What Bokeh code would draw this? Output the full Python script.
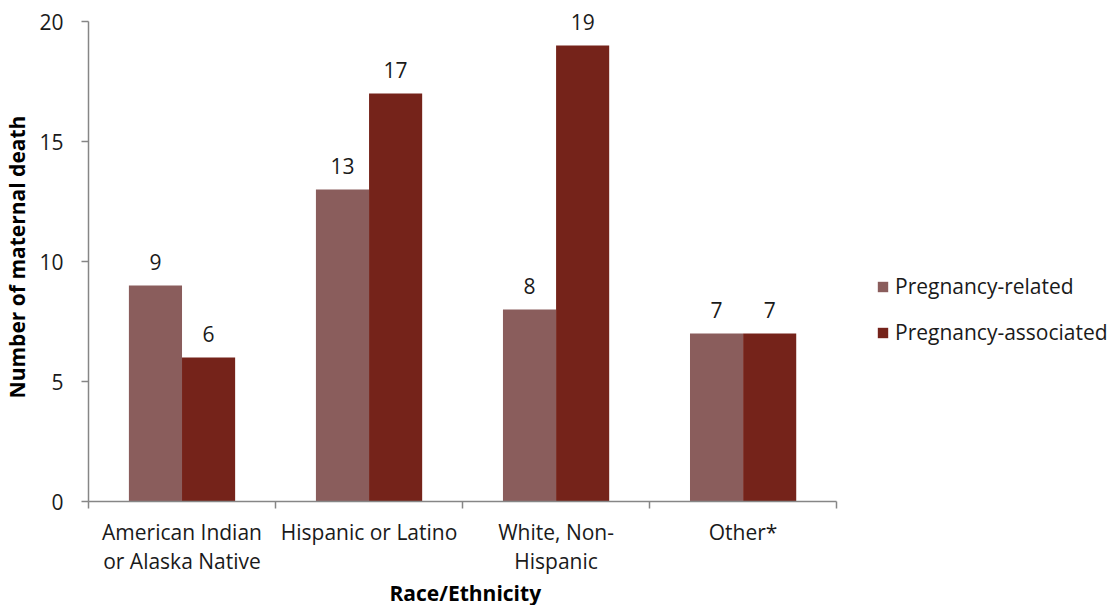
from bokeh.plotting import figure
from bokeh.models import (ColumnDataSource, FixedTicker, Range1d, Legend, LegendItem,
                          LinearAxis, Title)
from bokeh.core.properties import value
from bokeh.embed import file_html
from bokeh.resources import INLINE

categories = ["American Indian\nor Alaska Native", "Hispanic or Latino", "White, Non-\nHispanic", "Other*"]
related = [9, 13, 8, 7]
associated = [6, 17, 19, 7]
series_names = ["Pregnancy-related", "Pregnancy-associated"]
y_ticks = [0, 5, 10, 15, 20]

C_REL = "#8A5D5C"
C_ASC = "#75231A"
AXIS_C = "#868686"
FONT = "Open Sans"
FS = "21px"

n = len(categories)
centers = [i + 0.5 for i in range(n)]
bw = 0.284

W, H = 1107, 605
LEFT, TOP = 80, 12
PANEL_B = 104          # expected height of the bottom panel (axis + title)
FB = H - PANEL_B       # frame bottom (px from top)
Y20 = 21               # px position of the 20 gridline
CAT_W = 754.0
x_end = n * (W - LEFT) / CAT_W
y_end = 20 * (FB - TOP) / (FB - Y20)

p = figure(width=W, height=H, output_backend="svg", toolbar_location=None,
           x_range=Range1d(0, x_end), y_range=Range1d(0, y_end),
           min_border_left=LEFT, min_border_top=TOP, min_border_bottom=0, min_border_right=0,
           x_axis_type=None, y_axis_type=None)
p.outline_line_color = None
p.grid.visible = False
p.background_fill_color = "white"
p.border_fill_color = "white"

src_r = ColumnDataSource(dict(x=[c - bw / 2 for c in centers], top=related,
                              lab=[str(v) for v in related],
                              ly=[v + 1 for v in related]))
src_a = ColumnDataSource(dict(x=[c + bw / 2 for c in centers], top=associated,
                              lab=[str(v) for v in associated],
                              ly=[v + 1 for v in associated]))

r1 = p.vbar(x="x", top="top", bottom=0, width=bw, source=src_r, fill_color=C_REL, line_color=None)
r2 = p.vbar(x="x", top="top", bottom=0, width=bw, source=src_a, fill_color=C_ASC, line_color=None)

for s in (src_r, src_a):
    p.text(x="x", y="ly", text="lab", source=s, text_align="center", text_baseline="middle",
           text_font=value(FONT), text_font_size=FS, text_color="#1a1a1a")

# y axis
yax = LinearAxis(ticker=FixedTicker(ticks=y_ticks, minor_ticks=[]), bounds=(0, 20))
yax.axis_line_color = AXIS_C
yax.axis_line_width = 1.5
yax.major_tick_line_color = AXIS_C
yax.major_tick_line_width = 1.5
yax.major_tick_out = 7
yax.major_tick_in = 0
yax.minor_tick_line_color = None
yax.major_label_standoff = 18
yax.major_label_text_font = FONT
yax.major_label_text_font_size = FS
yax.major_label_text_color = "#1a1a1a"
yax.axis_label = "Number of maternal death"
yax.axis_label_text_font = FONT
yax.axis_label_text_font_size = FS
yax.axis_label_text_font_style = "bold"
yax.axis_label_text_color = "#000000"
yax.axis_label_standoff = 5
p.add_layout(yax, "left")

# x axis: labels at centers, ticks at boundaries
xax = LinearAxis(ticker=FixedTicker(ticks=centers, minor_ticks=list(range(n + 1))), bounds=(0, n))
xax.major_label_overrides = {c: lab for c, lab in zip(centers, categories)}
xax.axis_line_color = AXIS_C
xax.axis_line_width = 1.5
xax.major_tick_line_color = None
xax.major_tick_out = 0
xax.major_tick_in = 0
xax.minor_tick_line_color = AXIS_C
xax.minor_tick_line_width = 1.5
xax.minor_tick_out = 7
xax.minor_tick_in = 0
xax.major_label_standoff = 9
xax.major_label_text_font = FONT
xax.major_label_text_font_size = FS
xax.major_label_text_color = "#1a1a1a"
xax.major_label_text_line_height = 1.05
p.add_layout(xax, "below")

# x-axis title centred under the category span
xt = Title(text="Race/Ethnicity", align="left", offset=301,
           text_font=FONT, text_font_size=FS, text_font_style="bold", text_color="#000000",
           standoff=-2)
p.add_layout(xt, "below")

legend = Legend(items=[LegendItem(label=series_names[0], renderers=[r1]),
                       LegendItem(label=series_names[1], renderers=[r2])],
                location=(788, 155))
legend.border_line_color = None
legend.background_fill_alpha = 0
legend.glyph_width = 13
legend.glyph_height = 13
legend.label_standoff = 6
legend.spacing = 18
legend.padding = 0
legend.margin = 0
legend.label_text_font = FONT
legend.label_text_font_size = FS
legend.label_text_color = "#1a1a1a"
p.add_layout(legend, "center")

open("out.html", "w").write(file_html(p, INLINE))
